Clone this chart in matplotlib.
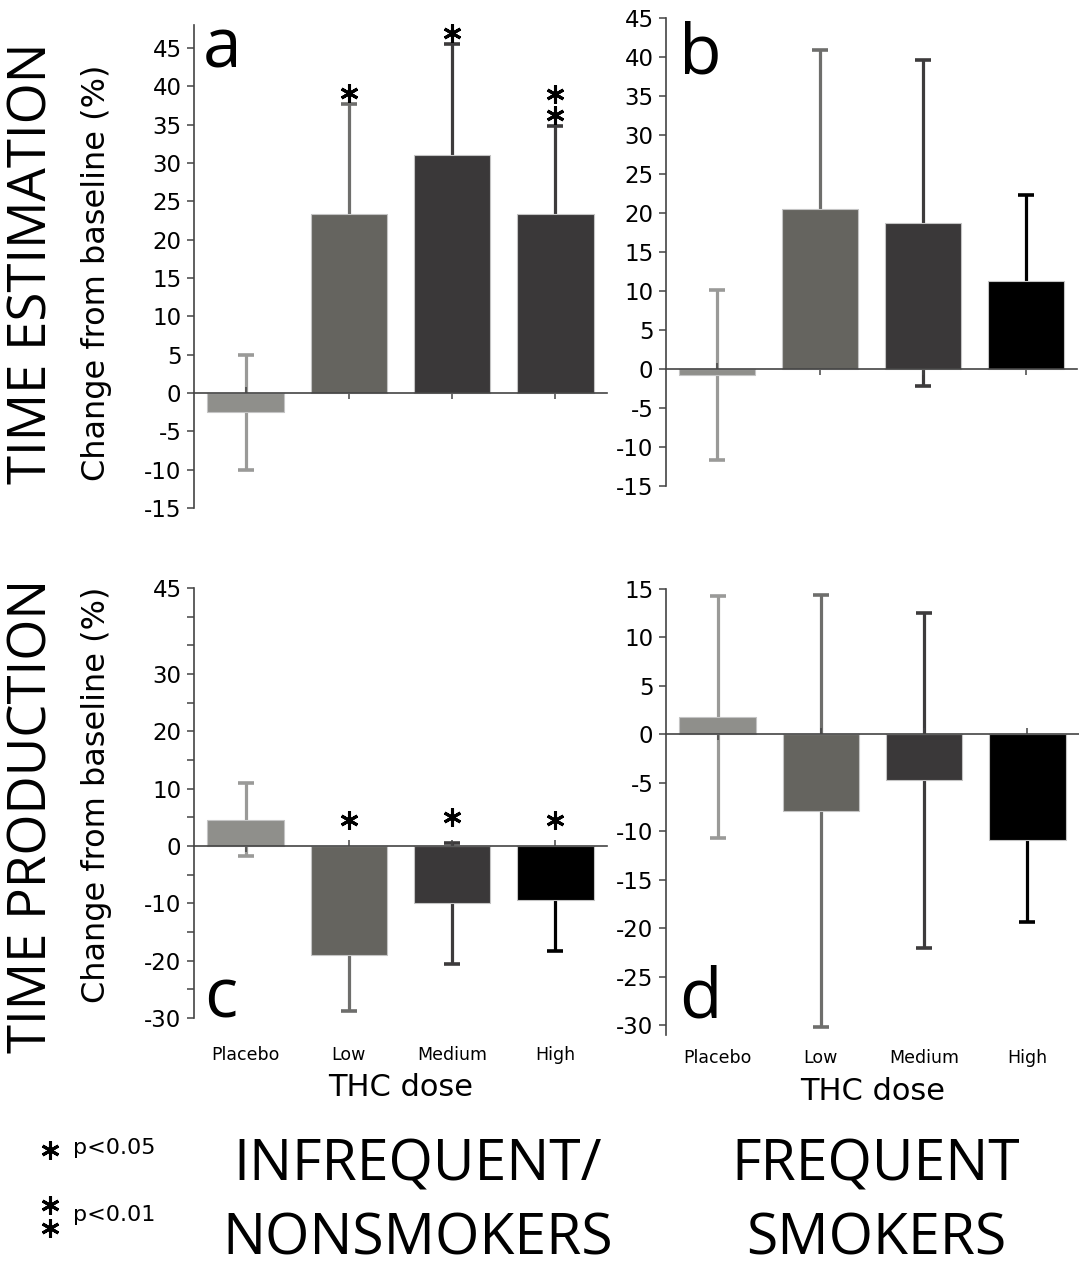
import matplotlib
matplotlib.use("Agg")
import matplotlib.pyplot as plt
from matplotlib import font_manager
from matplotlib.lines import Line2D
from matplotlib.transforms import offset_copy, blended_transform_factory
import numpy as np

W, H = 1079, 1269

doses = ["Placebo", "Low", "Medium", "High"]

# time estimation, % change from baseline (mean, error)
est_infreq_mean = [-2.5, 23.3, 31.0, 23.3]
est_infreq_err = [7.5, 14.4, 14.5, 11.5]
est_infreq_stars = [0, 1, 1, 2]

est_freq_mean = [-0.8, 20.5, 18.7, 11.3]
est_freq_err = [10.9, 20.4, 20.9, 11.0]
est_freq_stars = [0, 0, 0, 0]

# time production
prod_infreq_mean = [4.6, -19.0, -10.0, -9.5]
prod_infreq_err = [6.4, 9.7, 10.5, 8.8]
prod_infreq_stars = [0, 1, 1, 1]

prod_freq_mean = [1.8, -7.9, -4.75, -10.9]
prod_freq_err = [12.45, 22.3, 17.25, 8.45]
prod_freq_stars = [0, 0, 0, 0]

plt.rcParams["axes.unicode_minus"] = False
plt.rcParams["font.family"] = "DejaVu Sans"

names = {f.name for f in font_manager.fontManager.ttflist}
big_font = "Liberation Sans Narrow" if "Liberation Sans Narrow" in names else "Open Sans"
big_size = 45 if big_font == "Liberation Sans Narrow" else 41

BAR_LIGHT = "#8f8f8b"
BAR_MID = "#65645f"
BAR_DARK = "#3a3839"
ERR_LIGHT = "#9a9a98"
ERR_MID = "#6e6e6c"
ERR_DARK = "#3d3b3c"
SPINE = "#444444"
STAR = (6, 2, 0)
STAR_KW = dict(marker=STAR, ms=13, mew=2.2, color="black")

fig = plt.figure(figsize=(W / 100, H / 100), dpi=100, facecolor="white")


def px_rect(left, top, right, bottom):
    return [left / W, 1 - bottom / H, (right - left) / W, (bottom - top) / H]


def fx(x):
    return x / W


def fy(y):
    return 1 - y / H


def panel(rect, means, errs, stars, ylim, yticks, ylabels, bar_cols, err_cols,
          letter, letter_xy, star_off=11, xlabels=False, label_y=None):
    ax = fig.add_axes(px_rect(*rect))
    x = np.arange(len(doses))
    for i in x:
        ax.errorbar(i, means[i], yerr=errs[i], color=err_cols[i], lw=2.3,
                    capsize=6, capthick=2.6, zorder=1)
    ax.bar(x, means, width=0.74, color=bar_cols, edgecolor="#c4c4c4",
           linewidth=0.8, zorder=2)
    ax.set_xlim(-0.5, 3.5)
    ax.set_ylim(*ylim)
    ax.set_yticks(yticks)
    ax.set_yticklabels(ylabels)
    ax.set_xticks(x)
    for s in ["top", "right"]:
        ax.spines[s].set_visible(False)
    ax.spines["bottom"].set_position(("data", 0))
    for s in ["bottom", "left"]:
        ax.spines[s].set_color(SPINE)
        ax.spines[s].set_linewidth(1.2)
    ax.tick_params(axis="y", direction="out", length=5, width=1.1, color=SPINE,
                   labelsize=16.5, pad=4)
    ax.tick_params(axis="x", direction="inout", length=8, width=1.1, color=SPINE,
                   labelbottom=False)
    ax.patch.set_alpha(0)

    # significance markers
    for i, n in enumerate(stars):
        base = max(means[i] + errs[i], 0)
        for k in range(n):
            tr = offset_copy(ax.transData, fig=fig, y=star_off + 21 * k, units="dots")
            ax.plot(i, base, transform=tr, clip_on=False, zorder=5, **STAR_KW)

    fig.text(fx(letter_xy[0]), fy(letter_xy[1]), letter, fontsize=50,
             family="Open Sans", ha="center", va="baseline")

    if xlabels:
        tr = blended_transform_factory(ax.transData, fig.transFigure)
        for i, name in enumerate(doses):
            ax.text(i, fy(label_y), name, transform=tr, ha="center", va="center",
                    fontsize=12.5)
        cx = (rect[0] + rect[2]) / 2
        fig.text(fx(cx), fy(label_y + 33), "THC dose", ha="center", va="center",
                 fontsize=22)
    return ax


ticks_est = list(range(-15, 46, 5))
panel((194, 25, 607, 508), est_infreq_mean, est_infreq_err, est_infreq_stars,
      (-15, 48), ticks_est, [str(t) for t in ticks_est],
      [BAR_LIGHT, BAR_MID, BAR_DARK, BAR_DARK],
      [ERR_LIGHT, ERR_MID, ERR_DARK, ERR_DARK], "a", (222, 68))

panel((666, 18, 1077, 486), est_freq_mean, est_freq_err, est_freq_stars,
      (-15, 45), ticks_est, [str(t) for t in ticks_est],
      [BAR_LIGHT, BAR_MID, BAR_DARK, "black"],
      [ERR_LIGHT, ERR_MID, ERR_DARK, "black"], "b", (700, 73))

ticks_c = list(range(-30, 46, 5))
shown_c = [45, 30, 20, 10, 0, -10, -20, -30]
panel((194, 588, 607, 1018), prod_infreq_mean, prod_infreq_err, prod_infreq_stars,
      (-30, 45), ticks_c, [str(t) if t in shown_c else "" for t in ticks_c],
      [BAR_LIGHT, BAR_MID, BAR_DARK, "black"],
      [ERR_LIGHT, ERR_MID, ERR_DARK, "black"], "c", (221, 1017),
      star_off=26, xlabels=True, label_y=1055)

ticks_d = list(range(-30, 16, 5))
panel((666, 589, 1079, 1035), prod_freq_mean, prod_freq_err, prod_freq_stars,
      (-31, 15), ticks_d, [str(t) for t in ticks_d],
      [BAR_LIGHT, BAR_MID, BAR_DARK, "black"],
      [ERR_LIGHT, ERR_MID, ERR_DARK, "black"], "d", (700, 1017),
      xlabels=True, label_y=1058)

# row labels
fig.text(fx(33), fy(263), "TIME ESTIMATION", rotation=90, ha="center", va="center",
         fontsize=38, family="Open Sans")
fig.text(fx(33), fy(816), "TIME PRODUCTION", rotation=90, ha="center", va="center",
         fontsize=38, family="Open Sans")
fig.text(fx(97), fy(273), "Change from baseline (%)", rotation=90, ha="center",
         va="center", fontsize=23)
fig.text(fx(97), fy(795), "Change from baseline (%)", rotation=90, ha="center",
         va="center", fontsize=23)

# group labels
for cx, lines in [(418, ["INFREQUENT/", "NONSMOKERS"]), (876, ["FREQUENT", "SMOKERS"])]:
    fig.text(fx(cx), fy(1166), lines[0], ha="center", va="center",
             fontsize=big_size, family=big_font)
    fig.text(fx(cx), fy(1240), lines[1], ha="center", va="center",
             fontsize=big_size, family=big_font)

# significance legend
for y in [1150, 1205, 1228]:
    fig.add_artist(Line2D([fx(50)], [fy(y)], transform=fig.transFigure, **STAR_KW))
fig.text(fx(73), fy(1148), "p<0.05", ha="left", va="center", fontsize=16)
fig.text(fx(73), fy(1215), "p<0.01", ha="left", va="center", fontsize=16)

fig.savefig("out.png", dpi=100, facecolor="white")
